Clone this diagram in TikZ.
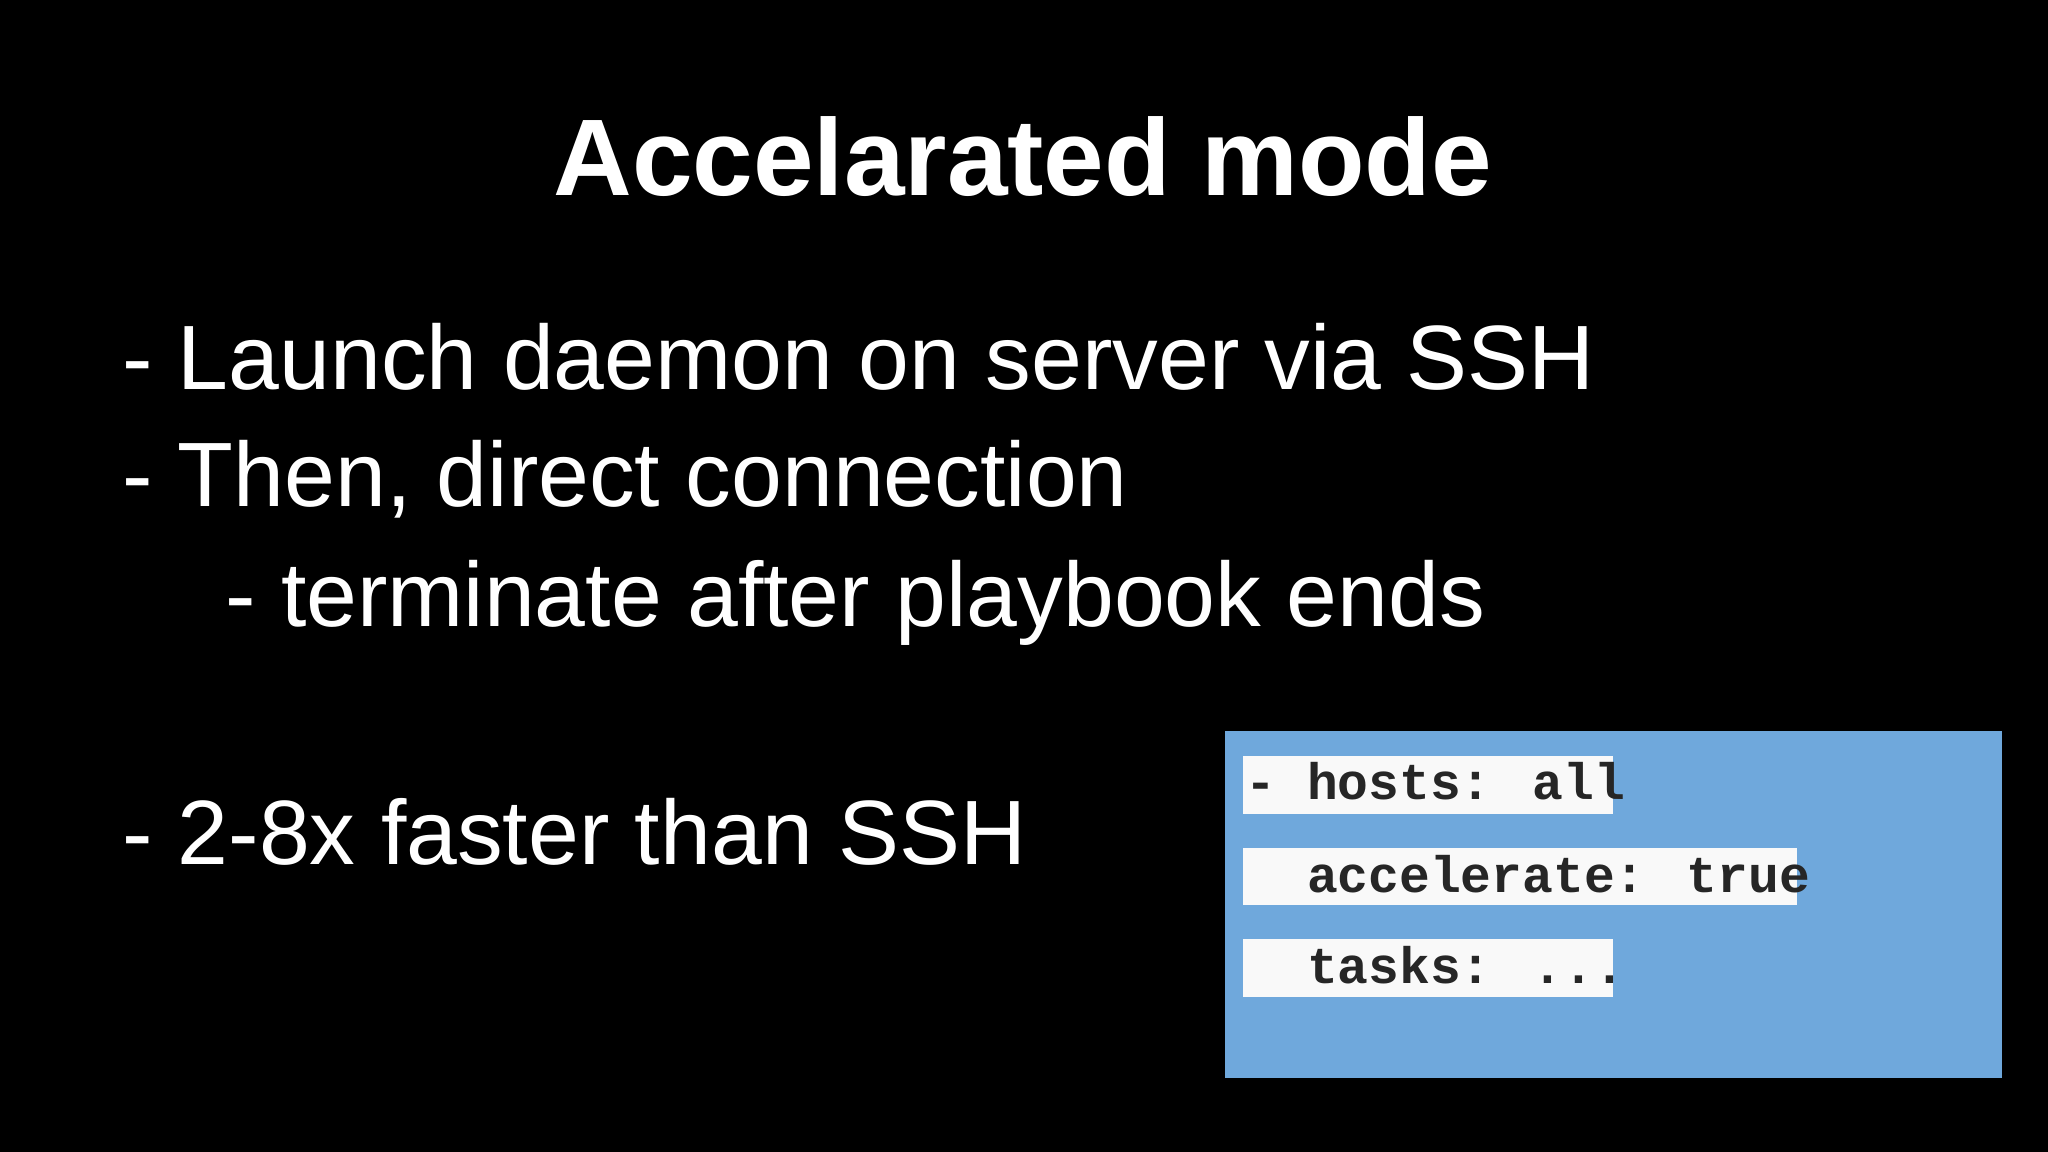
\documentclass[tikz,border=0pt]{standalone}
\usepackage{fontspec}
\setmainfont{Liberation Sans}
\newfontfamily\codefont{Liberation Mono}
\begin{document}
\begin{tikzpicture}[x=0.01306cm,y=-0.01306cm,
  bul/.style={anchor=base west,text=white,inner sep=0,font=\fontsize{26}{30}\selectfont},
  code/.style={anchor=base west,text=black!85,inner sep=0,font=\codefont\bfseries\fontsize{14.6}{17}\selectfont},
  hl/.style={fill=white!95!gray,draw=none}]
\fill[black] (0,0) rectangle (1568,882);
\useasboundingbox (0,0) rectangle (1568,882);
\node[anchor=base,text=white,inner sep=0,font=\bfseries\fontsize{31}{36}\selectfont] (title) at (783,150) {Accelarated mode};
\node[bul] (b1) at (93,298) {- Launch daemon on server via SSH};
\node[bul] (b2) at (93,388) {- Then, direct connection};
\node[bul] (b3) at (172,480) {- terminate after playbook ends};
\node[bul] (b4) at (93,662) {- 2-8x faster than SSH};
\fill[fill={rgb,255:red,111;green,168;blue,220}] (938,560) rectangle (1533,825);
\fill[hl] (952,579) rectangle (1235,623);
\fill[hl] (952,649) rectangle (1376,693);
\fill[hl] (952,719) rectangle (1235,763);
\node[code] (c1) at (953,612) {- hosts: all};
\node[code] (c2) at (953,683) {\ \ accelerate: true};
\node[code] (c3) at (953,753) {\ \ tasks: ...};
\end{tikzpicture}
\end{document}
